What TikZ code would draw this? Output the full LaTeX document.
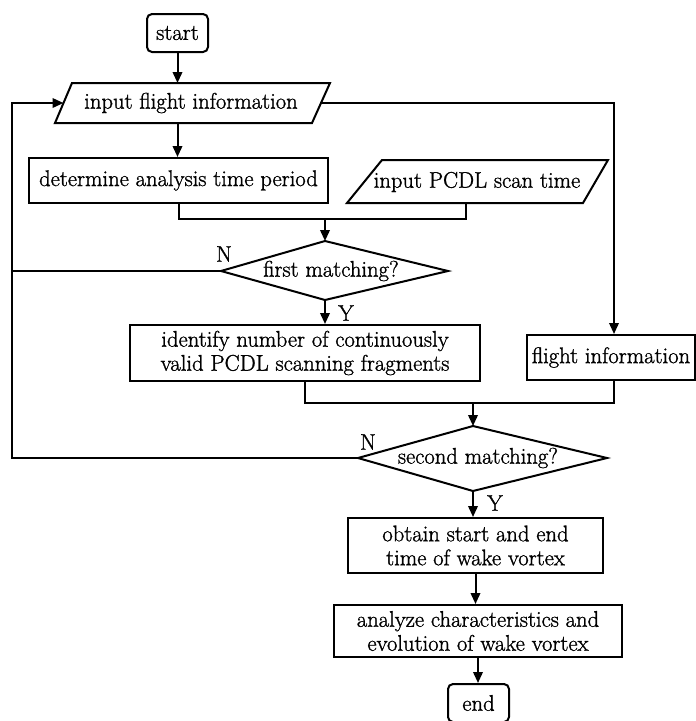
\documentclass[tikz,border=0pt]{standalone}
\usepackage{fontspec}
\setmainfont{Latin Modern Roman}[FakeBold=1.2]
\usetikzlibrary{arrows.meta}
\begin{document}
\begin{tikzpicture}[x=1pt,y=-1pt,
  every node/.style={font=\fontsize{22.6}{24}\selectfont},
  ln/.style={line width=2pt, line join=miter},
  arr/.style={ln,-{Triangle[length=11pt,width=9.5pt]}},
  box/.style={draw,line width=2pt,inner sep=0pt,align=center},
  term/.style={box,rounded corners=5pt},
  txt/.style={inner sep=0pt,align=center}]
\useasboundingbox (0,0) rectangle (696,721);

% start
\node[term,minimum width=61pt,minimum height=38pt] (start) at (177.5,33) {start};

% input flight information (parallelogram)
\coordinate (in1n) at (177.5,83);
\coordinate (in1s) at (177.5,123);
\coordinate (in1w) at (63.5,103);
\coordinate (in1e) at (321,103);
\draw[ln] (72,83) -- (330,83) -- (312,123) -- (55,123) -- cycle;
\node[txt] (in1) at (191,103) {input flight information};

% determine analysis time period
\node[box,minimum width=299pt,minimum height=45pt] (det) at (178.5,180.5) {determine analysis time period};

% input PCDL scan time (parallelogram)
\coordinate (in2s) at (466,203);
\draw[ln] (382,160) -- (608,160) -- (583,203) -- (347,203) -- cycle;
\node[txt] (in2) at (477,182) {input PCDL scan time};

% first matching (diamond)
\coordinate (d1n) at (325,241);
\coordinate (d1e) at (448,271);
\coordinate (d1s) at (325,300);
\coordinate (d1w) at (221,271);
\draw[ln] (d1n) -- (d1e) -- (d1s) -- (d1w) -- cycle;
\node[txt] (d1) at (331,271) {first matching?};
\node[txt] (n1) at (224,254) {N};
\node[txt] (y1) at (346,313) {Y};

% identify number ...
\node[box,minimum width=350pt,minimum height=56pt] (id) at (305,353) {identify number of continuously\\valid PCDL scanning fragments};

% flight information
\node[box,minimum width=168pt,minimum height=45pt] (fi) at (611,357.5) {flight information};

% second matching (diamond)
\coordinate (d2n) at (473,426);
\coordinate (d2e) at (607,458);
\coordinate (d2s) at (473,491);
\coordinate (d2w) at (358,458);
\draw[ln] (d2n) -- (d2e) -- (d2s) -- (d2w) -- cycle;
\node[txt] (d2) at (478,458) {second matching?};
\node[txt] (n2) at (368,442) {N};
\node[txt] (y2) at (495,503) {Y};

% obtain start and end
\node[box,minimum width=255pt,minimum height=55pt] (ob) at (475.5,545.5) {obtain start and end\\time of wake vortex};

% analyze
\node[box,minimum width=288pt,minimum height=52pt] (an) at (478,631) {analyze characteristics and\\evolution of wake vortex};

% end
\node[term,minimum width=61pt,minimum height=38pt] (end) at (478.5,703) {end};

% junction and loop coordinates
\coordinate (j1) at (325,219);
\coordinate (j2) at (473,403);
\coordinate (loopT) at (12,103);
\coordinate (loopM) at (12,271);
\coordinate (loopB) at (12,458);

% connectors
\draw[arr] (start) -- (in1n);
\draw[arr] (in1s) -- (det.north -| in1s);
\draw[ln] (det.south) |- (j1) -| (in2s);
\draw[arr] (j1) -- (d1n);
\draw[arr] (d1s) -- (d1s |- id.north);
\draw[ln] (d1w) -- (loopM);
\draw[arr] (d2w) -- (loopB) -- (loopT) -- (in1w);
\draw[arr] (in1e) -| ([xshift=3pt]fi.north);
\draw[ln] (id.south) |- (j2) -| ([xshift=3pt]fi.south);
\draw[arr] (j2) -- (d2n);
\draw[arr] (d2s) -- (d2s |- ob.north);
\draw[arr] (ob.south) -- (ob.south |- an.north);
\draw[arr] (an.south) -- (an.south |- end.north);
\end{tikzpicture}
\end{document}
